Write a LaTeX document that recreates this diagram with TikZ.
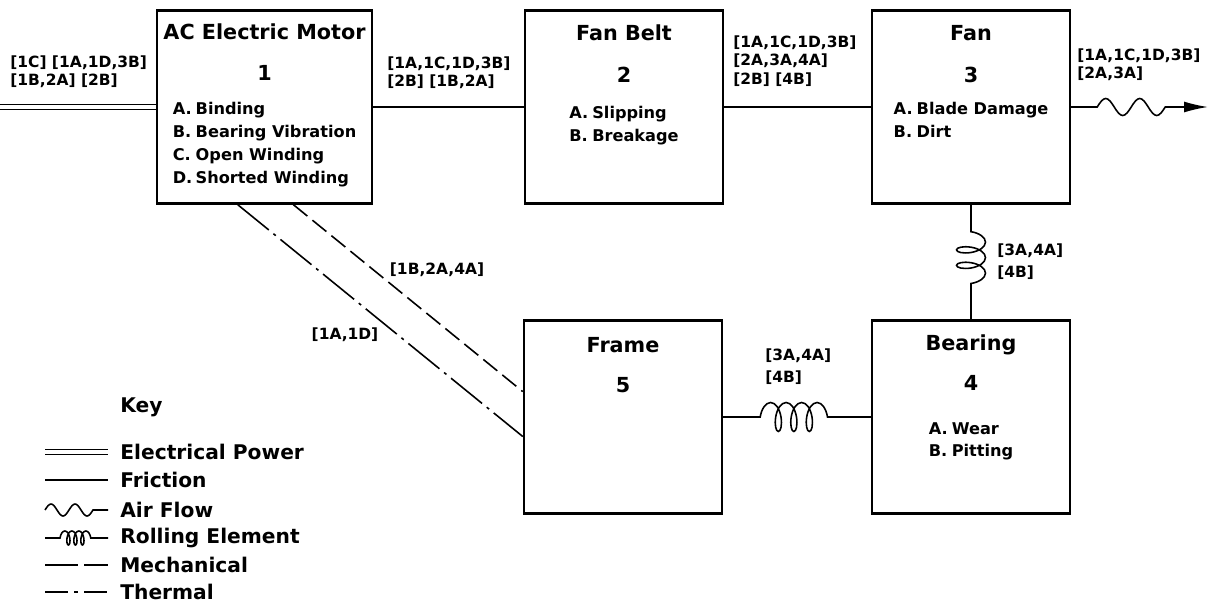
\documentclass[tikz,border=0pt]{standalone}
\usepackage{fontspec}
\setmainfont{DejaVu Sans}
\usetikzlibrary{arrows.meta,calc,positioning,decorations.pathmorphing}
\newcommand{\fmode}[2]{\makebox[0.46cm][l]{#1}#2}
\tikzset{
  blk/.style={draw, line width=1.4pt, minimum width=3.96cm, minimum height=3.86cm, inner sep=0pt},
  blkname/.style={font=\fontsize{11.8}{14}\selectfont\bfseries, inner sep=0pt},
  faults/.style={font=\fontsize{9.2}{13}\selectfont\bfseries, align=left, inner sep=0pt, anchor=north},
  tag/.style={font=\fontsize{8.8}{10.6}\selectfont\bfseries, align=left, inner sep=0pt, anchor=north west},
  keytext/.style={font=\fontsize{11.5}{14}\selectfont\bfseries, inner sep=0pt, anchor=west},
  friction/.style={line width=0.9pt},
  power/.style={line width=0.7pt, double, double distance=0.07cm},
  airflow/.style={line width=0.9pt, -{Latex[length=0.48cm,width=0.22cm]}},
  rolling/.style={line width=0.9pt, decorate, decoration={coil, amplitude=0.29cm, segment length=0.31cm, aspect=0.45}},
  mech/.style={line width=0.9pt, dash pattern=on 0.36cm off 0.13cm},
  therm/.style={line width=0.9pt, dash pattern=on 0.8cm off 0.12cm on 0.06cm off 0.12cm}
}
\begin{document}
\begin{tikzpicture}[x=0.02cm,y=-0.02cm]
  \useasboundingbox (0,0) rectangle (1217,605);
  \node[blk, minimum width=4.3cm] (motor) at (264.5,107) {};
  \node[blk] (belt) at (624,107) {};
  \node[blk] (fan) at (971,107) {};
  \node[blk] (frame) at (623,417) {};
  \node[blk] (bearing) at (971,417) {};
  \node[blkname] (motor-t) at (264.5,32) {AC Electric Motor};
  \node[blkname] (motor-n) at (264.5,73) {1};
  \node[faults] (motor-f) at (264.5,102) {\fmode{A.}{Binding}\\\fmode{B.}{Bearing Vibration}\\\fmode{C.}{Open Winding}\\\fmode{D.}{Shorted Winding}};
  \node[blkname] (belt-t) at (624,33) {Fan Belt};
  \node[blkname] (belt-n) at (624,75) {2};
  \node[faults] (belt-f) at (624,106) {\fmode{A.}{Slipping}\\\fmode{B.}{Breakage}};
  \node[blkname] (fan-t) at (971,33) {Fan};
  \node[blkname] (fan-n) at (971,75) {3};
  \node[faults] (fan-f) at (971,102) {\fmode{A.}{Blade Damage}\\\fmode{B.}{Dirt}};
  \node[blkname] (frame-t) at (623,345) {Frame};
  \node[blkname] (frame-n) at (623,385) {5};
  \node[blkname] (bearing-t) at (971,345) {Bearing};
  \node[blkname] (bearing-n) at (971,383) {4};
  \node[faults] (bearing-f) at (971,422) {\fmode{A.}{Wear}\\\fmode{B.}{Pitting}};

  \coordinate (pwr) at (0,107);
  \coordinate (air) at (1208,107);
  \draw[power] (pwr) -- (motor.west);
  \draw[friction] (motor.east) -- (belt.west);
  \draw[friction] (belt.east) -- (fan.west);
  \draw[airflow] (fan.east) -- ++(26,0) sin ++(8.5,-8.5) cos ++(8.5,8.5) sin ++(8.5,8.5) cos ++(8.5,-8.5)
    sin ++(8.5,-8.5) cos ++(8.5,8.5) sin ++(8.5,8.5) cos ++(8.5,-8.5) -- (air);
  \draw[rolling, decoration={pre length=0.54cm, post length=0.46cm}] (fan.south) -- (bearing.north);
  \draw[rolling, decoration={pre length=0.74cm, post length=0.8cm}] (frame.east) -- (bearing.west);
  \coordinate (mech-a) at ($(motor.south west)!0.633!(motor.south east)$);
  \coordinate (mech-b) at ($(frame.north west)!0.37!(frame.south west)$);
  \coordinate (therm-a) at ($(motor.south west)!0.377!(motor.south east)$);
  \coordinate (therm-b) at ($(frame.north west)!0.60!(frame.south west)$);
  \draw[mech] (mech-a) -- (mech-b);
  \draw[therm] (therm-a) -- (therm-b);

  \node[tag] (in-tag) at (10,55) {[1C] [1A,1D,3B]\\{}[1B,2A] [2B]};
  \node[tag] (motor-belt-tag) at (387,56) {[1A,1C,1D,3B]\\{}[2B] [1B,2A]};
  \node[tag] (belt-fan-tag) at (733,35) {[1A,1C,1D,3B]\\{}[2A,3A,4A]\\{}[2B] [4B]};
  \node[tag] (out-tag) at (1077,48) {[1A,1C,1D,3B]\\{}[2A,3A]};
  \node[tag] (fan-bearing-tag) at (997,243) {[3A,4A]\\[2pt]{}[4B]};
  \node[tag] (frame-bearing-tag) at (765,348) {[3A,4A]\\[2pt]{}[4B]};
  \node[tag, anchor=center] (mech-tag) at (437,270) {[1B,2A,4A]};
  \node[tag, anchor=center] (therm-tag) at (345,335) {[1A,1D]};

  \node[keytext] (k-key) at (120,407) {Key};
  \node[keytext] (k-pow) at (120,452) {Electrical Power};
  \node[keytext] (k-fric) at (120,480) {Friction};
  \node[keytext] (k-air) at (120,510) {Air Flow};
  \node[keytext] (k-roll) at (120,538) {Rolling Element};
  \node[keytext] (k-mech) at (120,565) {Mechanical};
  \node[keytext] (k-therm) at (120,592) {Thermal};
  \draw[power] ([xshift=-1.5cm]k-pow.west) -- ([xshift=-0.24cm]k-pow.west);
  \draw[friction] ([xshift=-1.5cm]k-fric.west) -- ([xshift=-0.24cm]k-fric.west);
  \draw[friction] ([xshift=-1.5cm]k-air.west) sin ++(6,-6) cos ++(6,6) sin ++(6,6) cos ++(6,-6)
    sin ++(6,-6) cos ++(6,6) sin ++(6,6) cos ++(6,-6) -- ([xshift=-0.24cm]k-air.west);
  \draw[rolling, decoration={amplitude=0.14cm, segment length=0.14cm, pre length=0.3cm, post length=0.3cm}]
    ([xshift=-1.5cm]k-roll.west) -- ([xshift=-0.24cm]k-roll.west);
  \draw[mech, dash pattern=on 0.66cm off 0.12cm] ([xshift=-1.5cm]k-mech.west) -- ([xshift=-0.24cm]k-mech.west);
  \draw[therm, dash pattern=on 0.46cm off 0.12cm on 0.08cm off 0.12cm] ([xshift=-1.5cm]k-therm.west) -- ([xshift=-0.24cm]k-therm.west);
\end{tikzpicture}
\end{document}
